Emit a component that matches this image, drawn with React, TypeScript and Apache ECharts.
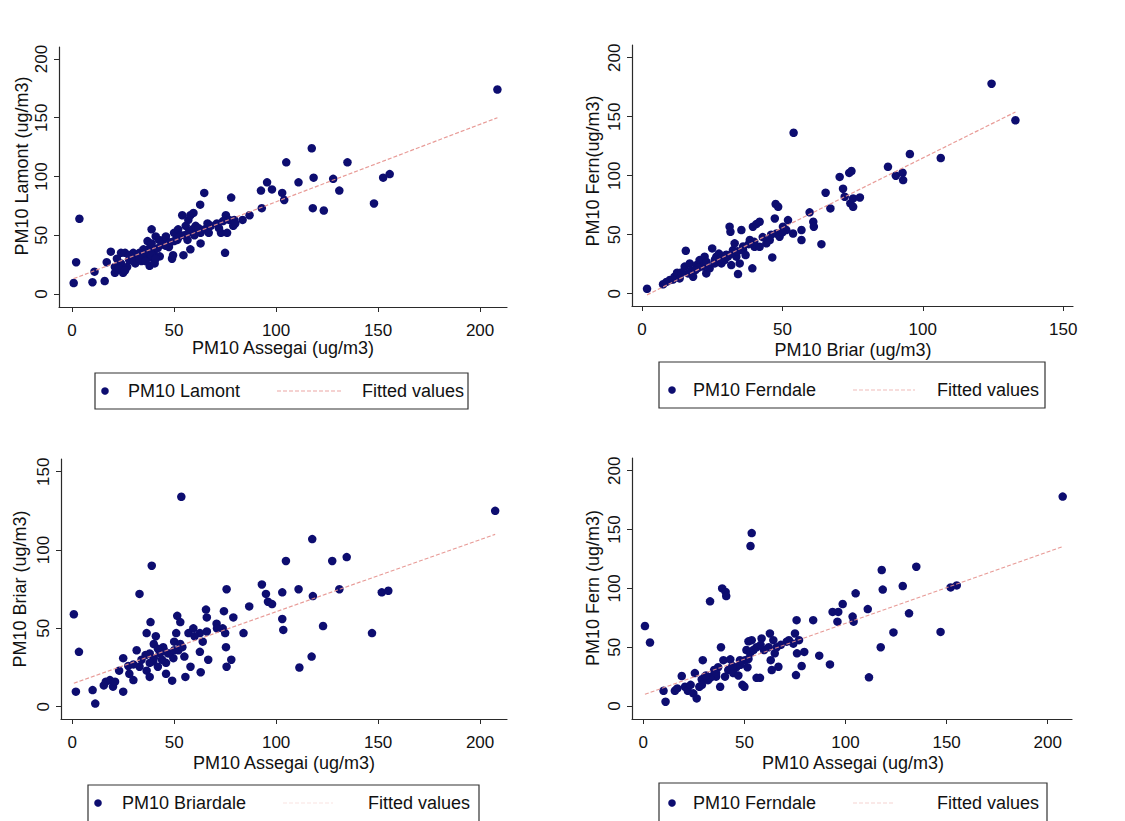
import React, { useEffect, useRef } from "react";
import * as echarts from "echarts";

// ---------- Data ----------
const lamontVsAssegai: number[][] = [
  [0.8, 9.3], [2, 27], [3.6, 64], [10, 10], [11, 19], [16, 11], [17, 27], [19, 36], [21, 23], [21, 18],
  [24, 35], [24, 26], [25, 18], [26, 35], [27, 23], [28, 29], [29, 32], [30, 35], [31, 26], [32, 31],
  [33, 35], [34, 28], [35, 32], [37, 36], [37, 45], [38, 39], [38, 24], [38.5, 31], [39, 55], [39, 43],
  [40, 35], [40.5, 26], [41, 49], [42, 39], [42.6, 46], [43, 32], [45, 46], [46, 49], [47.5, 40], [49, 30],
  [49.5, 33], [50, 52], [51.6, 46], [52, 55], [53, 50], [54, 67], [54.6, 33], [55.7, 58], [56.6, 46], [57, 63],
  [58, 67], [58, 38], [59, 55], [59.5, 69], [60.6, 58], [62.8, 76], [63, 52], [63, 43], [64.8, 86], [65, 55],
  [66.4, 60], [67, 52], [71, 60], [73, 52], [75, 35], [75.4, 67], [76, 52], [77, 63], [78, 82], [79, 58],
  [79.5, 63], [83.6, 63], [87, 67], [92.6, 88], [93, 73], [95.6, 95], [98, 89], [103, 86], [104, 80], [105, 112],
  [111, 95], [117.5, 124], [118, 73], [118.4, 99], [123.4, 71], [128, 98], [131, 88], [135, 112], [148, 77],
  [152.5, 99], [155.7, 102], [208.5, 174],
  [22, 30], [23, 22], [26, 20], [28, 33], [30, 28], [33, 30], [35, 38], [36, 28], [39, 33], [41, 30],
  [44, 42], [46, 41], [48, 44], [50, 45], [52, 48], [55, 50], [57, 52], [60, 50], [62, 56], [68, 58],
  [72, 56], [74, 62], [80, 60],
];
const lamontFit: number[][] = [[0.8, 13], [208.5, 150]];

const fernVsBriar: number[][] = [
  [1.8, 4.2], [7.5, 8], [8.7, 10], [9.9, 11.6], [11.6, 14.4], [12.5, 17.8], [13.4, 13], [15.2, 23], [15.6, 36.4],
  [16.4, 17.2], [17, 25.7], [17.6, 20], [18.2, 14.4], [19.4, 24.3], [20.5, 28.5], [21.7, 23], [22.3, 31.4],
  [22.9, 17.2], [24.1, 21.5], [25, 38.4], [25.9, 25.7], [26.5, 31.4], [27.4, 34], [28.3, 25.7], [29.4, 28.5],
  [30.6, 31.4], [31.2, 56.8], [31.5, 52.5], [31.8, 24.3], [32.4, 37], [33, 42.7], [33.6, 31.4], [34.2, 16.7],
  [34.8, 25.7], [35.4, 54], [36, 37], [36.9, 32.8], [38.4, 45.5], [39.3, 21.5], [39.5, 56.8], [40.1, 39.8],
  [40.7, 59], [41.9, 61], [41.9, 39.8], [44.3, 42.7], [45.5, 45.5], [46.4, 30.8], [47.3, 63.8], [47.6, 76],
  [48.5, 73.7], [47.9, 51], [49, 48.3], [50.2, 56.8], [51.4, 54], [52, 62.4], [53.8, 51], [54, 136.4],
  [56.8, 54], [56.8, 45.5], [59.7, 69], [61, 61], [61.2, 56.8], [63.9, 42], [65.4, 85.6], [67.1, 72.3],
  [70.4, 99], [71.6, 89], [72.2, 82.2], [73.8, 102.4], [74.6, 104], [74.2, 76.6], [75.2, 73.7], [75.2, 80.8],
  [77.6, 81.6], [87.6, 107.6], [90.4, 100], [92.8, 102.5], [93, 96.3], [95.4, 118.4], [106.4, 115],
  [124.5, 178], [133, 147],
  [20, 22], [23, 27], [26, 29], [28, 30], [30, 33], [32, 34], [34, 36], [36, 40], [38, 42], [40, 44],
  [43, 48], [46, 50], [50, 52], [19, 20], [14, 18], [11, 12],
];
const fernBriarFit: number[][] = [[1.8, -1], [133, 154]];

const briarVsAssegai: number[][] = [
  [0.8, 59], [1.8, 9.6], [3.3, 35], [10, 10.6], [11.3, 2], [15.5, 13.6], [16.5, 16], [18.5, 17], [20, 12.8],
  [21, 16], [23, 23], [25, 9.6], [25, 31], [27.5, 26], [28, 21], [30, 17], [31.6, 36], [33, 72], [33, 25.5],
  [36.5, 47], [36.5, 23], [38, 34], [38, 19], [38.4, 54], [39, 90], [39.7, 29], [40, 40], [41, 45], [42, 25.5],
  [43, 34], [44.6, 38], [46, 21], [46, 28], [48, 34], [49, 16.6], [49.6, 31], [50, 41.5], [51, 47], [51.5, 58],
  [52, 36], [53, 54], [53.5, 134], [54, 38], [55, 32], [55.5, 19], [57, 47], [58, 25.5], [59.4, 50],
  [62.6, 47], [62.6, 35], [63, 22], [64, 41.5], [65.6, 62], [66, 57], [66.7, 30], [70.8, 53], [73.8, 50],
  [74.4, 61], [75, 47], [75.4, 38], [75.7, 75], [75.7, 25.5], [78, 30], [79, 57], [84, 47], [86.8, 64],
  [93, 78], [95, 72], [96, 67], [98, 65.5], [103, 73], [103, 56], [103.5, 49], [104.8, 93], [111, 75],
  [111.4, 25], [117.4, 32], [117.7, 107], [118, 70.6], [123, 51.5], [127.5, 93], [131, 75], [134.6, 95.5],
  [147, 47], [151.8, 73], [155, 74], [207.4, 125],
  [30, 27], [34, 30], [36, 33], [40, 31], [44, 30], [47, 34], [50, 36], [53, 40], [45, 36], [42, 37],
  [38, 28], [60, 45], [66, 48], [71, 50],
];
const briarFit: number[][] = [[0.8, 15], [207.4, 110]];

const fernVsAssegai: number[][] = [
  [0.8, 68], [3.3, 54], [10, 13], [11, 3.7], [15.6, 13], [16.8, 15], [19, 25.5], [20.6, 16.4], [22, 13],
  [23.4, 18], [24.7, 10.8], [25.5, 28], [26.4, 6.5], [27.7, 16.4], [28.9, 22.7], [29.4, 39], [30.5, 25],
  [32, 22], [33, 89], [33.8, 25], [35, 30.6], [36, 25], [37, 33], [38, 16.4], [38.4, 50], [39, 100],
  [39.6, 39], [40.4, 25], [40.7, 97], [41, 93.5], [42, 30.6], [43, 39.7], [44.5, 28], [46, 33], [47, 26],
  [47.8, 39], [49, 18], [50, 16.4], [50.3, 39], [51, 47.6], [51.5, 33], [52, 55], [52.8, 45], [53, 136],
  [53.6, 147], [53.6, 56], [54.4, 47.6], [56, 24], [57.7, 24], [58.5, 57.5], [59.7, 47.6], [62.6, 61.7],
  [63, 39], [63.5, 30.6], [64.3, 56], [65, 44.8], [66, 50], [66.8, 33.4], [70.9, 54.7], [74.2, 53],
  [75, 61.7], [75.5, 26.3], [75.8, 73], [76, 44.8], [77, 56], [78.3, 34], [79.6, 46], [84, 73], [87, 42.8],
  [92.3, 35.4], [93.6, 80], [96.4, 80], [96, 71.7], [98.6, 86.7], [103.5, 76], [104, 71.7], [105, 95.8],
  [111, 82.4], [111.6, 24.4], [117.4, 50], [117.9, 115.6], [118.4, 99], [123.7, 62.6], [128.3, 102],
  [131.4, 78.8], [135, 118.4], [147, 63], [152, 100.8], [155, 102.5], [207.4, 178],
  [33, 24], [36, 28], [44, 34], [48, 35], [52, 40], [56, 50], [58, 52], [62, 50], [68, 52], [72, 56],
  [29, 18], [31, 26],
];
const fernFit: number[][] = [[0.8, 10], [207.4, 135.5]];

const assegaiTicks = [0, 50, 100, 150, 200];
const briarXTicks = [0, 50, 100, 150];
const y200Ticks = [0, 50, 100, 150, 200];
const y150Ticks = [0, 50, 100, 150];

const MARKER = "#0d0d70";
const FITLINE = "#e6908c";
const AXIS = "#2a2a2a";
const FONT = "'Liberation Sans', Arial, sans-serif";

type Panel = {
  grid: { left: number; top: number; width: number; height: number };
  x: { min: number; max: number; ticks: number[] };
  y: { min: number; max: number; ticks: number[] };
  points: number[][];
  fit: number[][];
  name: string;
  xTitle: { text: string; x: number; y: number };
  yTitle: { text: string; x: number; y: number };
  legend: { box: number[]; cy: number; dotX: number; textX: number; line: number[]; fitX: number; lineOpacity: number };
};

const panels: Panel[] = [
  {
    grid: { left: 59, top: 47, width: 448, height: 260 },
    x: { min: -6.4, max: 213.2, ticks: assegaiTicks },
    y: { min: -11.1, max: 210.2, ticks: y200Ticks },
    points: lamontVsAssegai,
    fit: lamontFit,
    name: "PM10 Lamont",
    xTitle: { text: "PM10 Assegai (ug/m3)", x: 283, y: 348 },
    yTitle: { text: "PM10 Lamont (ug/m3)", x: 22, y: 166 },
    legend: { box: [95, 373, 373, 36], cy: 391, dotX: 105, textX: 128, line: [277, 343], fitX: 362, lineOpacity: 0.8 },
  },
  {
    grid: { left: 632, top: 45, width: 441, height: 261 },
    x: { min: -3.56, max: 153.5, ticks: briarXTicks },
    y: { min: -10.4, max: 210.8, ticks: y200Ticks },
    points: fernVsBriar,
    fit: fernBriarFit,
    name: "PM10 Ferndale",
    xTitle: { text: "PM10 Briar (ug/m3)", x: 853, y: 350 },
    yTitle: { text: "PM10 Fern(ug/m3)", x: 593, y: 171 },
    legend: { box: [659, 362, 386, 46], cy: 390, dotX: 672, textX: 693, line: [853, 915], fitX: 937, lineOpacity: 0.6 },
  },
  {
    grid: { left: 61, top: 459, width: 446, height: 260 },
    x: { min: -5.5, max: 213.2, ticks: assegaiTicks },
    y: { min: -7.85, max: 158.1, ticks: y150Ticks },
    points: briarVsAssegai,
    fit: briarFit,
    name: "PM10 Briardale",
    xTitle: { text: "PM10 Assegai (ug/m3)", x: 284, y: 763 },
    yTitle: { text: "PM10 Briar (ug/m3)", x: 20, y: 589 },
    legend: { box: [88, 785, 391, 50], cy: 803, dotX: 98, textX: 122, line: [283, 333], fitX: 368, lineOpacity: 0.25 },
  },
  {
    grid: { left: 632, top: 458, width: 440, height: 261 },
    x: { min: -5.6, max: 212, ticks: assegaiTicks },
    y: { min: -11, max: 210.8, ticks: y200Ticks },
    points: fernVsAssegai,
    fit: fernFit,
    name: "PM10 Ferndale",
    xTitle: { text: "PM10 Assegai (ug/m3)", x: 853, y: 763 },
    yTitle: { text: "PM10 Fern (ug/m3)", x: 593, y: 588 },
    legend: { box: [659, 783, 388, 50], cy: 803, dotX: 672, textX: 693, line: [853, 893], fitX: 937, lineOpacity: 0.4 },
  },
];

function buildOption() {
  const grid: any[] = [];
  const xAxis: any[] = [];
  const yAxis: any[] = [];
  const series: any[] = [];
  const graphic: any[] = [];

  panels.forEach((p, i) => {
    grid.push({ ...p.grid, containLabel: false });
    xAxis.push({
      type: "value",
      gridIndex: i,
      min: p.x.min,
      max: p.x.max,
      splitLine: { show: false },
      axisLine: { show: true, onZero: false, lineStyle: { color: AXIS, width: 1.2 } },
      axisTick: { show: true, length: 5, inside: false, customValues: p.x.ticks, lineStyle: { color: AXIS } },
      axisLabel: {
        customValues: p.x.ticks,
        color: "#111111",
        fontSize: 17,
        fontFamily: FONT,
        margin: 15,
        showMinLabel: true,
        showMaxLabel: true,
      },
    });
    yAxis.push({
      type: "value",
      gridIndex: i,
      min: p.y.min,
      max: p.y.max,
      splitLine: { show: false },
      axisLine: { show: true, onZero: false, lineStyle: { color: AXIS, width: 1.2 } },
      axisTick: { show: true, length: 5, inside: false, customValues: p.y.ticks, lineStyle: { color: AXIS } },
      axisLabel: {
        customValues: p.y.ticks,
        rotate: 90,
        color: "#111111",
        fontSize: 17,
        fontFamily: FONT,
        margin: 9,
      },
    });
    series.push({
      type: "scatter",
      name: p.name,
      xAxisIndex: i,
      yAxisIndex: i,
      data: p.points,
      symbol: "circle",
      symbolSize: 8.5,
      itemStyle: { color: MARKER, opacity: 1 },
      z: 2,
    });
    series.push({
      type: "line",
      name: "Fitted values",
      xAxisIndex: i,
      yAxisIndex: i,
      data: p.fit,
      showSymbol: false,
      symbol: "none",
      lineStyle: { color: FITLINE, width: 1.2, type: [4, 2], opacity: 0.9 },
      z: 3,
    });

    graphic.push({
      type: "text",
      x: p.xTitle.x,
      y: p.xTitle.y,
      style: { text: p.xTitle.text, fill: "#111111", font: `18px ${FONT}`, textAlign: "center", textVerticalAlign: "middle" },
    });
    graphic.push({
      type: "text",
      x: p.yTitle.x,
      y: p.yTitle.y,
      rotation: Math.PI / 2,
      style: { text: p.yTitle.text, fill: "#111111", font: `18px ${FONT}`, textAlign: "center", textVerticalAlign: "middle" },
    });

    const L = p.legend;
    graphic.push({
      type: "rect",
      shape: { x: L.box[0], y: L.box[1], width: L.box[2], height: L.box[3] },
      style: { fill: "#ffffff", stroke: "#333333", lineWidth: 1.2 },
      z: 10,
    });
    graphic.push({
      type: "circle",
      shape: { cx: L.dotX, cy: L.cy, r: 3.8 },
      style: { fill: MARKER },
      z: 11,
    });
    graphic.push({
      type: "text",
      x: L.textX,
      y: L.cy,
      style: { text: p.name, fill: "#111111", font: `18px ${FONT}`, textAlign: "left", textVerticalAlign: "middle" },
      z: 11,
    });
    graphic.push({
      type: "line",
      shape: { x1: L.line[0], y1: L.cy, x2: L.line[1], y2: L.cy },
      style: { stroke: FITLINE, lineWidth: 1.2, lineDash: [4, 2], opacity: L.lineOpacity },
      z: 11,
    });
    graphic.push({
      type: "text",
      x: L.fitX,
      y: L.cy,
      style: { text: "Fitted values", fill: "#111111", font: `18px ${FONT}`, textAlign: "left", textVerticalAlign: "middle" },
      z: 11,
    });
  });

  return {
    animation: false,
    backgroundColor: "#ffffff",
    legend: { show: false },
    grid,
    xAxis,
    yAxis,
    series,
    graphic,
  };
}

export default function App() {
  const ref = useRef<HTMLDivElement>(null);
  useEffect(() => {
    if (!ref.current) return;
    const chart = echarts.init(ref.current, undefined, { renderer: "svg" });
    chart.setOption(buildOption() as any);
    return () => chart.dispose();
  }, []);
  return (
    <div
      ref={ref}
      style={{ position: "fixed", left: 0, top: 0, width: 1125, height: 821, background: "#fff" }}
    />
  );
}
